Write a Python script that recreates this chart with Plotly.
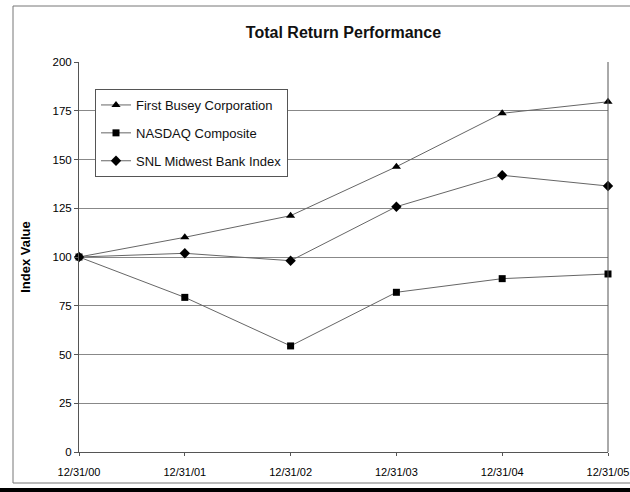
import plotly.graph_objects as go

dates = ["12/31/00", "12/31/01", "12/31/02", "12/31/03", "12/31/04", "12/31/05"]
first_busey = [100.0, 110.1, 121.2, 146.3, 173.7, 179.6]
nasdaq = [100.0, 79.3, 54.4, 81.9, 88.9, 91.3]
snl_midwest = [100.0, 101.9, 98.1, 125.8, 141.9, 136.4]
y_ticks = [0, 25, 50, 75, 100, 125, 150, 175, 200]

FONT = "Liberation Sans, Arial, sans-serif"
xpos = list(range(len(dates)))

fig = go.Figure()
series = [
    ("First Busey Corporation", first_busey, "triangle-up", 8),
    ("NASDAQ Composite", nasdaq, "square", 7),
    ("SNL Midwest Bank Index", snl_midwest, "diamond", 8),
]
for i, (name, vals, sym, sz) in enumerate(series):
    fig.add_trace(go.Scatter(
        x=xpos, y=vals, name=name, mode="lines+markers",
        line=dict(color="#666666", width=1),
        marker=dict(symbol=sym, size=sz, color="black"),
        legendgroup=f"g{i}", cliponaxis=False,
    ))

W, H = 630, 492
L, R, T, B = 79, 22, 62, 40
pw, ph = W - L - R, H - T - B

def px_x(x):
    return (x - L) / pw

def px_y(y):
    return (H - B - y) / ph

fig.update_layout(
    width=W, height=H,
    margin=dict(l=L, r=R, t=T, b=B),
    paper_bgcolor="white", plot_bgcolor="white",
    font=dict(family=FONT, size=11, color="black"),
    title=dict(text="<b>Total Return Performance</b>", x=0.5, xanchor="center",
               xref="paper", y=1 - 32 / H, yanchor="middle",
               font=dict(size=16, family=FONT, color="#111111")),
    showlegend=True,
    legend=dict(x=px_x(95), y=px_y(89), xanchor="left", yanchor="top",
                bordercolor="#555555", borderwidth=1, bgcolor="white",
                font=dict(size=13, family=FONT, color="#111111"),
                tracegroupgap=8, itemwidth=30),
    xaxis=dict(range=[0, 5], tickmode="array", tickvals=xpos, ticktext=dates,
               showgrid=False, zeroline=False, showline=True, linecolor="#555555",
               linewidth=1, ticks="outside", ticklen=3, tickcolor="#555555",
               ticklabelstandoff=7, automargin=False,
               tickfont=dict(size=11, family=FONT), mirror=False),
    yaxis=dict(range=[0, 200], tickmode="array", tickvals=y_ticks,
               showgrid=True, gridcolor="#888888", gridwidth=1, zeroline=False,
               showline=True, linecolor="#555555", linewidth=1,
               ticks="outside", ticklen=4, tickcolor="#555555",
               tickfont=dict(size=11.5, family=FONT), automargin=False,
               title=dict(text="<b>Index Value</b>", font=dict(size=13, family=FONT),
                          standoff=18)),
    shapes=[
        dict(type="line", xref="paper", yref="paper", x0=1, x1=1, y0=0, y1=1,
             line=dict(color="#555555", width=1)),
        dict(type="rect", xref="paper", yref="paper",
             x0=px_x(13), x1=px_x(640), y0=px_y(483), y1=px_y(6),
             line=dict(color="#777777", width=1), layer="below"),
        dict(type="rect", xref="paper", yref="paper",
             x0=px_x(0), x1=px_x(630), y0=px_y(492), y1=px_y(488),
             line=dict(width=0), fillcolor="black"),
    ],
)

fig.write_html("out.html", config={"displayModeBar": False},
               post_script="document.body.style.margin='0';document.body.style.overflow='hidden';")
